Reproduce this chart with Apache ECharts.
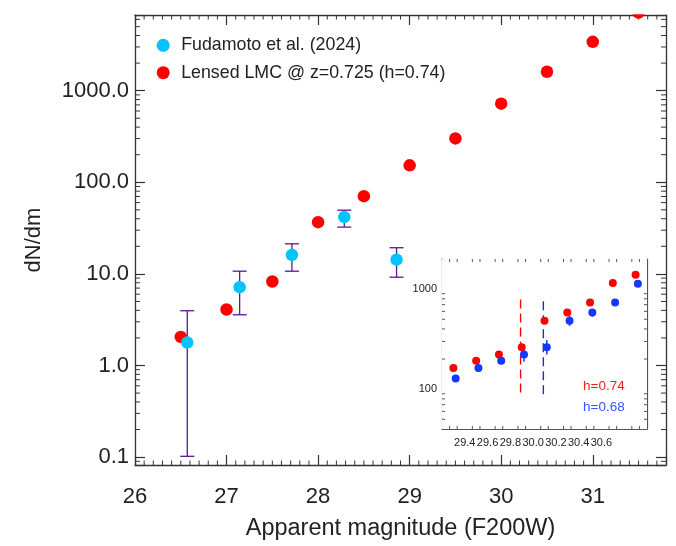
<!DOCTYPE html>
<html><head><meta charset="utf-8">
<script src="https://cdn.jsdelivr.net/npm/echarts@6/dist/echarts.min.js"></script>
<style>html,body{margin:0;padding:0;background:#fff}#c{width:676px;height:546px}</style>
</head><body><div id="c"></div>
<script>
const FONT = '"Liberation Sans", Arial, Helvetica, sans-serif';
// ---- main panel data ----
const lmcMag = [26.5, 27.0, 27.5, 28.0, 28.5, 29.0, 29.5, 30.0, 30.5, 31.0, 31.5];
const lmcN = [2.05, 4.09, 8.25, 36.7, 70.5, 153, 301, 722, 1610, 3410, 7110];
const fudMag = [26.571, 27.143, 27.714, 28.286, 28.857];
const fudN = [1.78, 7.17, 16.1, 41.7, 14.3];
const fudLow = [0.102, 3.58, 10.7, 32.4, 9.2];
const fudHigh = [3.96, 10.7, 21.3, 49.6, 19.3];
const mainXTickValues = [26, 27, 28, 29, 30, 31];
const mainXTickLabels = ['26', '27', '28', '29', '30', '31'];
const mainYTickValues = [0.1, 1, 10, 100, 1000];
const mainYTickLabels = ['0.1', '1.0', '10.0', '100.0', '1000.0'];
// ---- inset data ----
const insetRedMag = [29.3, 29.5, 29.7, 29.9, 30.1, 30.3, 30.5, 30.7, 30.9];
const insetRedN = [163, 192, 222, 263, 482, 585, 736, 1148, 1390];
const insetBlueMag = [29.32, 29.52, 29.72, 29.92, 30.12, 30.32, 30.52, 30.72, 30.92];
const insetBlueN = [128, 163, 192, 222, 263, 482, 585, 736, 1130];
const insetBlueLow = [121, 155, 183, 188, 222, 430, 530, 680, 1090];
const insetBlueHigh = [135, 171, 201, 255, 311, 541, 631, 794, 1170];
const limitRedMag = 29.89, limitBlueMag = 30.09;
const limitRedN = [92.7, 826];
const limitBlueN = [89, 826];
const insetXTickValues = [29.4, 29.6, 29.8, 30.0, 30.2, 30.4, 30.6];
const insetXTickLabels = ['29.4', '29.6', '29.8', '30.0', '30.2', '30.4', '30.6'];
const insetYTickValues = [100, 1000];
const insetYTickLabels = ['100', '1000'];
// ---- axis ranges ----
const MAIN_X = [26, 31.8], MAIN_Y = [0.082, 6700];
const INSET_X = [29.2, 31.0], INSET_Y = [40, 2000];

function lookup(vals, labels) {
  return function (v) {
    for (let i = 0; i < vals.length; i++) {
      if (Math.abs(v - vals[i]) < 1e-6 * Math.max(1, Math.abs(vals[i]))) return labels[i];
    }
    return '';
  };
}
function linMinor(min, max, step, majorStep) {
  const out = [];
  const n = Math.round((max - min) / step);
  for (let i = 1; i < n; i++) {
    const v = min + i * step;
    const r = v / majorStep;
    if (Math.abs(r - Math.round(r)) > 1e-6) out.push(+v.toFixed(6));
  }
  return out;
}
function logMinor(min, max) {
  const out = [];
  for (let k = -3; k <= 4; k++) for (let m = 2; m <= 9; m++) {
    const v = m * Math.pow(10, k);
    if (v > min && v < max) out.push(v);
  }
  return out;
}
function errRender(capW, color, lw) {
  return function (params, api) {
    const x = api.value(0), lo = api.value(1), hi = api.value(2);
    const p1 = api.coord([x, lo]), p2 = api.coord([x, hi]);
    const st = { stroke: color, lineWidth: lw };
    const ch = [{ type: 'line', shape: { x1: p1[0], y1: p1[1], x2: p2[0], y2: p2[1] }, style: st }];
    if (capW > 0) {
      ch.push({ type: 'line', shape: { x1: p1[0] - capW / 2, y1: p1[1], x2: p1[0] + capW / 2, y2: p1[1] }, style: st });
      ch.push({ type: 'line', shape: { x1: p2[0] - capW / 2, y1: p2[1], x2: p2[0] + capW / 2, y2: p2[1] }, style: st });
    }
    return { type: 'group', children: ch };
  };
}
function minorRender(dim, len, color, lw) {
  return function (params, api) {
    const cs = params.coordSys;
    const p = api.coord([api.value(0), api.value(1)]);
    const st = { stroke: color, lineWidth: lw };
    if (dim === 'x') {
      return { type: 'group', children: [
        { type: 'line', shape: { x1: p[0], y1: cs.y + cs.height, x2: p[0], y2: cs.y + cs.height - len }, style: st },
        { type: 'line', shape: { x1: p[0], y1: cs.y, x2: p[0], y2: cs.y + len }, style: st }
      ] };
    }
    return { type: 'group', children: [
      { type: 'line', shape: { x1: cs.x, y1: p[1], x2: cs.x + len, y2: p[1] }, style: st },
      { type: 'line', shape: { x1: cs.x + cs.width, y1: p[1], x2: cs.x + cs.width - len, y2: p[1] }, style: st }
    ] };
  };
}

const AX = '#333', TXT = '#222';
const RED = '#ff0000', CYAN = '#00c4ff', PURPLE = '#5e1594', BLUE = '#1438ff';

function xAx(grid, range, interval, pos, opts) {
  return Object.assign({
    type: 'value', gridIndex: grid, min: range[0], max: range[1], interval: interval, position: pos,
    axisLine: { show: true, onZero: false, lineStyle: { color: opts.c, width: opts.w } },
    axisTick: { show: true, inside: true, length: opts.tl, lineStyle: { color: opts.c, width: opts.tw } },
    splitLine: { show: false }, minorTick: { show: false }
  }, opts.extra || {});
}
function yAx(grid, range, pos, opts) {
  return Object.assign({
    type: 'log', logBase: 10, gridIndex: grid, min: range[0], max: range[1], position: pos,
    axisLine: { show: true, onZero: false, lineStyle: { color: opts.c, width: opts.w } },
    axisTick: { show: true, inside: true, length: opts.tl, lineStyle: { color: opts.c, width: opts.tw } },
    splitLine: { show: false }, minorTick: { show: false }
  }, opts.extra || {});
}
const mainO = { c: AX, w: 1.3, tl: 10, tw: 1.2 };
const insO = { c: '#555', w: 1.2, tl: 5, tw: 1 };

const option = {
  animation: false,
  backgroundColor: '#fff',
  textStyle: { fontFamily: FONT },
  grid: [
    { left: 135, top: 15, width: 531, height: 452, show: false },
    { left: 442, top: 259, width: 205, height: 170, show: true, backgroundColor: '#fff', borderWidth: 0, z: 5 }
  ],
  legend: {
    data: ['Fudamoto et al. (2024)', 'Lensed LMC @ z=0.725 (h=0.74)'],
    orient: 'vertical', left: 156.7, top: 36.3, padding: 0, itemWidth: 26, itemHeight: 13, itemGap: 9.4,
    icon: 'circle', selectedMode: false,
    textStyle: { fontSize: 17.8, color: TXT, fontFamily: FONT }
  },
  xAxis: [
    xAx(0, MAIN_X, 1, 'bottom', Object.assign({}, mainO, { extra: {
      axisLabel: { show: true, margin: 20.5, fontSize: 22, color: TXT, fontFamily: FONT, formatter: lookup(mainXTickValues, mainXTickLabels) },
      name: 'Apparent magnitude (F200W)', nameLocation: 'middle', nameGap: 52,
      nameTextStyle: { fontSize: 23.5, color: TXT, fontFamily: FONT }
    } })),
    xAx(0, MAIN_X, 1, 'top', Object.assign({}, mainO, { extra: { axisLabel: { show: false } } })),
    xAx(1, INSET_X, 0.2, 'bottom', Object.assign({}, insO, { extra: {
      axisLabel: { show: true, margin: 8, fontSize: 11, color: TXT, fontFamily: FONT, formatter: lookup(insetXTickValues, insetXTickLabels) }
    } })),
    xAx(1, INSET_X, 0.2, 'top', Object.assign({}, insO, { extra: { axisLabel: { show: false } } }))
  ],
  yAxis: [
    yAx(0, MAIN_Y, 'left', Object.assign({}, mainO, { extra: {
      axisLabel: { show: true, margin: 6, fontSize: 22, color: TXT, fontFamily: FONT, padding: [4, 0, 0, 0], formatter: lookup(mainYTickValues, mainYTickLabels) },
      name: 'dN/dm', nameLocation: 'middle', nameGap: 90, nameRotate: 90,
      nameTextStyle: { fontSize: 22, color: TXT, fontFamily: FONT }
    } })),
    yAx(0, MAIN_Y, 'right', Object.assign({}, mainO, { extra: { axisLabel: { show: false } } })),
    yAx(1, INSET_Y, 'left', Object.assign({}, insO, { extra: {
      axisLabel: { show: true, margin: 5, fontSize: 11, color: TXT, fontFamily: FONT, formatter: lookup(insetYTickValues, insetYTickLabels) }
    } })),
    yAx(1, INSET_Y, 'right', Object.assign({}, insO, { extra: { axisLabel: { show: false } } }))
  ],
  graphic: [
    { type: 'rect', shape: { x: 100, y: 0, width: 576, height: 14.2 }, style: { fill: '#fff' }, z: 100 },
    { type: 'text', x: 583, y: 386, z: 100, style: { text: 'h=0.74', fill: '#ff1a1a', fontSize: 13.5, fontFamily: FONT, verticalAlign: 'middle' } },
    { type: 'text', x: 583, y: 407, z: 100, style: { text: 'h=0.68', fill: '#3355ff', fontSize: 13.5, fontFamily: FONT, verticalAlign: 'middle' } }
  ],
  series: [
    { type: 'custom', name: 'mainXMinor', xAxisIndex: 0, yAxisIndex: 0, silent: true, z: 1,
      renderItem: minorRender('x', 4.5, AX, 1), data: linMinor(MAIN_X[0], MAIN_X[1], 0.1, 1).map(v => [v, 1]) },
    { type: 'custom', name: 'mainYMinor', xAxisIndex: 0, yAxisIndex: 0, silent: true, z: 1,
      renderItem: minorRender('y', 5, AX, 1), data: logMinor(MAIN_Y[0], MAIN_Y[1]).map(v => [27, v]) },
    { type: 'scatter', name: 'Lensed LMC @ z=0.725 (h=0.74)', xAxisIndex: 0, yAxisIndex: 0, clip: false,
      symbol: 'circle', symbolSize: 12.5, itemStyle: { color: RED, opacity: 1 }, z: 3,
      data: lmcMag.map((m, i) => [m, lmcN[i]]) },
    { type: 'custom', name: 'fudErr', xAxisIndex: 0, yAxisIndex: 0, silent: true, z: 3,
      encode: { x: 0, y: [1, 2] },
      renderItem: errRender(14, PURPLE, 1.3), data: fudMag.map((m, i) => [m, fudLow[i], fudHigh[i]]) },
    { type: 'scatter', name: 'Fudamoto et al. (2024)', xAxisIndex: 0, yAxisIndex: 0,
      symbol: 'circle', symbolSize: 12.5, itemStyle: { color: CYAN, opacity: 1 }, z: 4,
      data: fudMag.map((m, i) => [m, fudN[i]]) },
    // inset
    { type: 'custom', name: 'insXMinor', xAxisIndex: 2, yAxisIndex: 2, silent: true, z: 6,
      renderItem: minorRender('x', 3, '#555', 1), data: linMinor(INSET_X[0], INSET_X[1], 0.2 / 3, 0.2).map(v => [v, 100]) },
    { type: 'custom', name: 'insYMinor', xAxisIndex: 2, yAxisIndex: 2, silent: true, z: 6,
      renderItem: minorRender('y', 3, '#555', 1), data: logMinor(INSET_Y[0], INSET_Y[1]).map(v => [30, v]) },
    { type: 'line', name: 'limRed', xAxisIndex: 2, yAxisIndex: 2, symbol: 'none', silent: true, z: 6,
      lineStyle: { color: RED, width: 1.4, type: [9, 5] }, data: limitRedN.map(v => [limitRedMag, v]) },
    { type: 'line', name: 'limBlue', xAxisIndex: 2, yAxisIndex: 2, symbol: 'none', silent: true, z: 6,
      lineStyle: { color: '#2030b0', width: 1.4, type: [9, 5] }, data: limitBlueN.map(v => [limitBlueMag, v]) },
    { type: 'scatter', name: 'insRed', xAxisIndex: 2, yAxisIndex: 2, symbol: 'circle', symbolSize: 8, z: 7,
      itemStyle: { color: RED, opacity: 1 }, data: insetRedMag.map((m, i) => [m, insetRedN[i]]) },
    { type: 'custom', name: 'insBlueErr', xAxisIndex: 2, yAxisIndex: 2, silent: true, z: 7,
      encode: { x: 0, y: [1, 2] },
      renderItem: errRender(0, BLUE, 1.5), data: insetBlueMag.map((m, i) => [m, insetBlueLow[i], insetBlueHigh[i]]) },
    { type: 'scatter', name: 'insBlue', xAxisIndex: 2, yAxisIndex: 2, symbol: 'circle', symbolSize: 8, z: 8,
      itemStyle: { color: BLUE, opacity: 1 }, data: insetBlueMag.map((m, i) => [m, insetBlueN[i]]) }
  ]
};
const chart = echarts.init(document.getElementById('c'), null, { renderer: 'canvas' });
chart.setOption(option);
</script>
</body></html>
